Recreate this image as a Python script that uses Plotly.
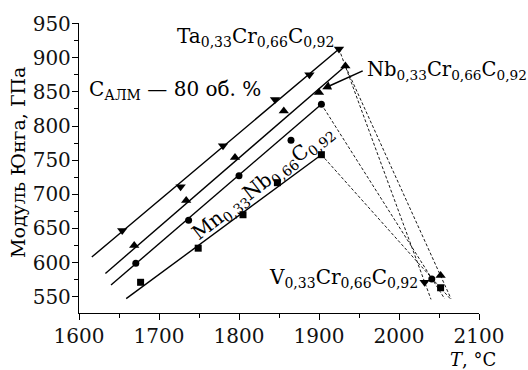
import plotly.graph_objects as go

# Measured points (T, °C ; Young's modulus, GPa)
temps_ta = [1654, 1727, 1780, 1845, 1888, 1925, 2032]
modulus_ta = [647, 711, 771, 839, 875, 913, 571]
temps_nb = [1669, 1734, 1795, 1856, 1900, 1933, 2052]
modulus_nb = [625, 691, 754, 822, 849, 888, 581]
temps_mn = [1671, 1737, 1800, 1865, 1903, 2041]
modulus_mn = [599, 662, 727, 779, 832, 576]
temps_v = [1677, 1749, 1805, 1848, 1903, 2052]
modulus_v = [571, 621, 670, 717, 758, 563]

# Fitted solid lines (start -> peak) and dashed drop lines (peak -> end)
fit_ta_x = [1616, 1925]; fit_ta_y = [608, 913]
fit_nb_x = [1633, 1933]; fit_nb_y = [584, 888]
fit_mn_x = [1640, 1903]; fit_mn_y = [567, 832]
fit_v_x = [1659, 1903]; fit_v_y = [547, 758]
drop_ta_x = [1925, 2040]; drop_ta_y = [913, 546]
drop_nb_x = [1933, 2065]; drop_nb_y = [888, 547]
drop_mn_x = [1903, 2057]; drop_mn_y = [832, 547]
drop_v_x = [1903, 2064]; drop_v_y = [758, 547]

x_ticks = [1600, 1700, 1800, 1900, 2000, 2100]
y_ticks = [550, 600, 650, 700, 750, 800, 850, 900, 950]

FONT = "DejaVu Serif"
fig = go.Figure()

for fx, fy in [(fit_ta_x, fit_ta_y), (fit_nb_x, fit_nb_y), (fit_mn_x, fit_mn_y), (fit_v_x, fit_v_y)]:
    fig.add_trace(go.Scatter(x=fx, y=fy, mode="lines", line=dict(color="black", width=1.4),
                             showlegend=False, hoverinfo="skip"))
for dx, dy in [(drop_ta_x, drop_ta_y), (drop_nb_x, drop_nb_y), (drop_mn_x, drop_mn_y), (drop_v_x, drop_v_y)]:
    fig.add_trace(go.Scatter(x=dx, y=dy, mode="lines", line=dict(color="black", width=0.9, dash="3px,2px"),
                             showlegend=False, hoverinfo="skip"))

for tx, my, sym, sz in [(temps_ta, modulus_ta, "triangle-down", 9),
                        (temps_nb, modulus_nb, "triangle-up", 9),
                        (temps_mn, modulus_mn, "circle", 7),
                        (temps_v, modulus_v, "square", 7)]:
    fig.add_trace(go.Scatter(x=tx, y=my, mode="markers", cliponaxis=False,
                             marker=dict(symbol=sym, size=sz, color="black"),
                             showlegend=False))

ann_font = dict(family=FONT, size=20, color="black")
annotations = [
    dict(x=1820, y=931, text="Ta<sub>0,33</sub>Cr<sub>0,66</sub>C<sub>0,92</sub>", showarrow=False, font=ann_font),
    dict(x=1720, y=853, text="C<sub>АЛМ</sub> — 80 об. %", showarrow=False, font=ann_font),
    dict(x=1957, y=881, text="Nb<sub>0,33</sub>Cr<sub>0,66</sub>C<sub>0,92</sub>", showarrow=False,
         xanchor="left", font=dict(family=FONT, size=19.5, color="black")),
    dict(x=1930, y=578, text="V<sub>0,33</sub>Cr<sub>0,66</sub>C<sub>0,92</sub>", showarrow=False, font=ann_font),
    dict(x=1830, y=716, text="Mn<sub>0,33</sub>Nb<sub>0,66</sub>C<sub>0,92</sub>", showarrow=False,
         textangle=-38, font=ann_font),
    dict(x=1904, y=854, text="", showarrow=True, arrowhead=2, arrowsize=1.1, arrowwidth=1.6,
         arrowcolor="black", axref="pixel", ayref="pixel", ax=42, ay=-19),
    dict(xref="paper", yref="paper", x=-0.152, y=0.518, xanchor="center", yanchor="middle",
         text="Модуль Юнга, ГПа", showarrow=False,
         textangle=-90, font=dict(family=FONT, size=19, color="black")),
    dict(xref="paper", yref="paper", x=0.985, y=-0.162, xanchor="center", yanchor="middle",
         text="<i>T</i>, °C", showarrow=False,
         font=dict(family=FONT, size=18, color="black")),
]

axis_common = dict(showline=True, linecolor="black", linewidth=1.3, ticks="outside", ticklen=6,
                   tickwidth=1.2, tickcolor="black", showgrid=False, zeroline=False,
                   tickfont=dict(family=FONT, size=20, color="#111"))
fig.update_layout(
    width=528, height=370,
    margin=dict(l=79, r=49, t=15, b=57),
    paper_bgcolor="white", plot_bgcolor="white",
    xaxis=dict(range=[1600, 2100], tickvals=x_ticks, ticklabelstandoff=-1,
               minor=dict(dtick=50, ticks="outside", ticklen=4, tickcolor="black"), **axis_common),
    yaxis=dict(range=[526, 951], tickvals=y_ticks, ticklabelstandoff=-3,
               minor=dict(dtick=25, ticks="outside", ticklen=4, tickcolor="black"), **axis_common),
    annotations=annotations,
)
fig.write_html("out.html")
